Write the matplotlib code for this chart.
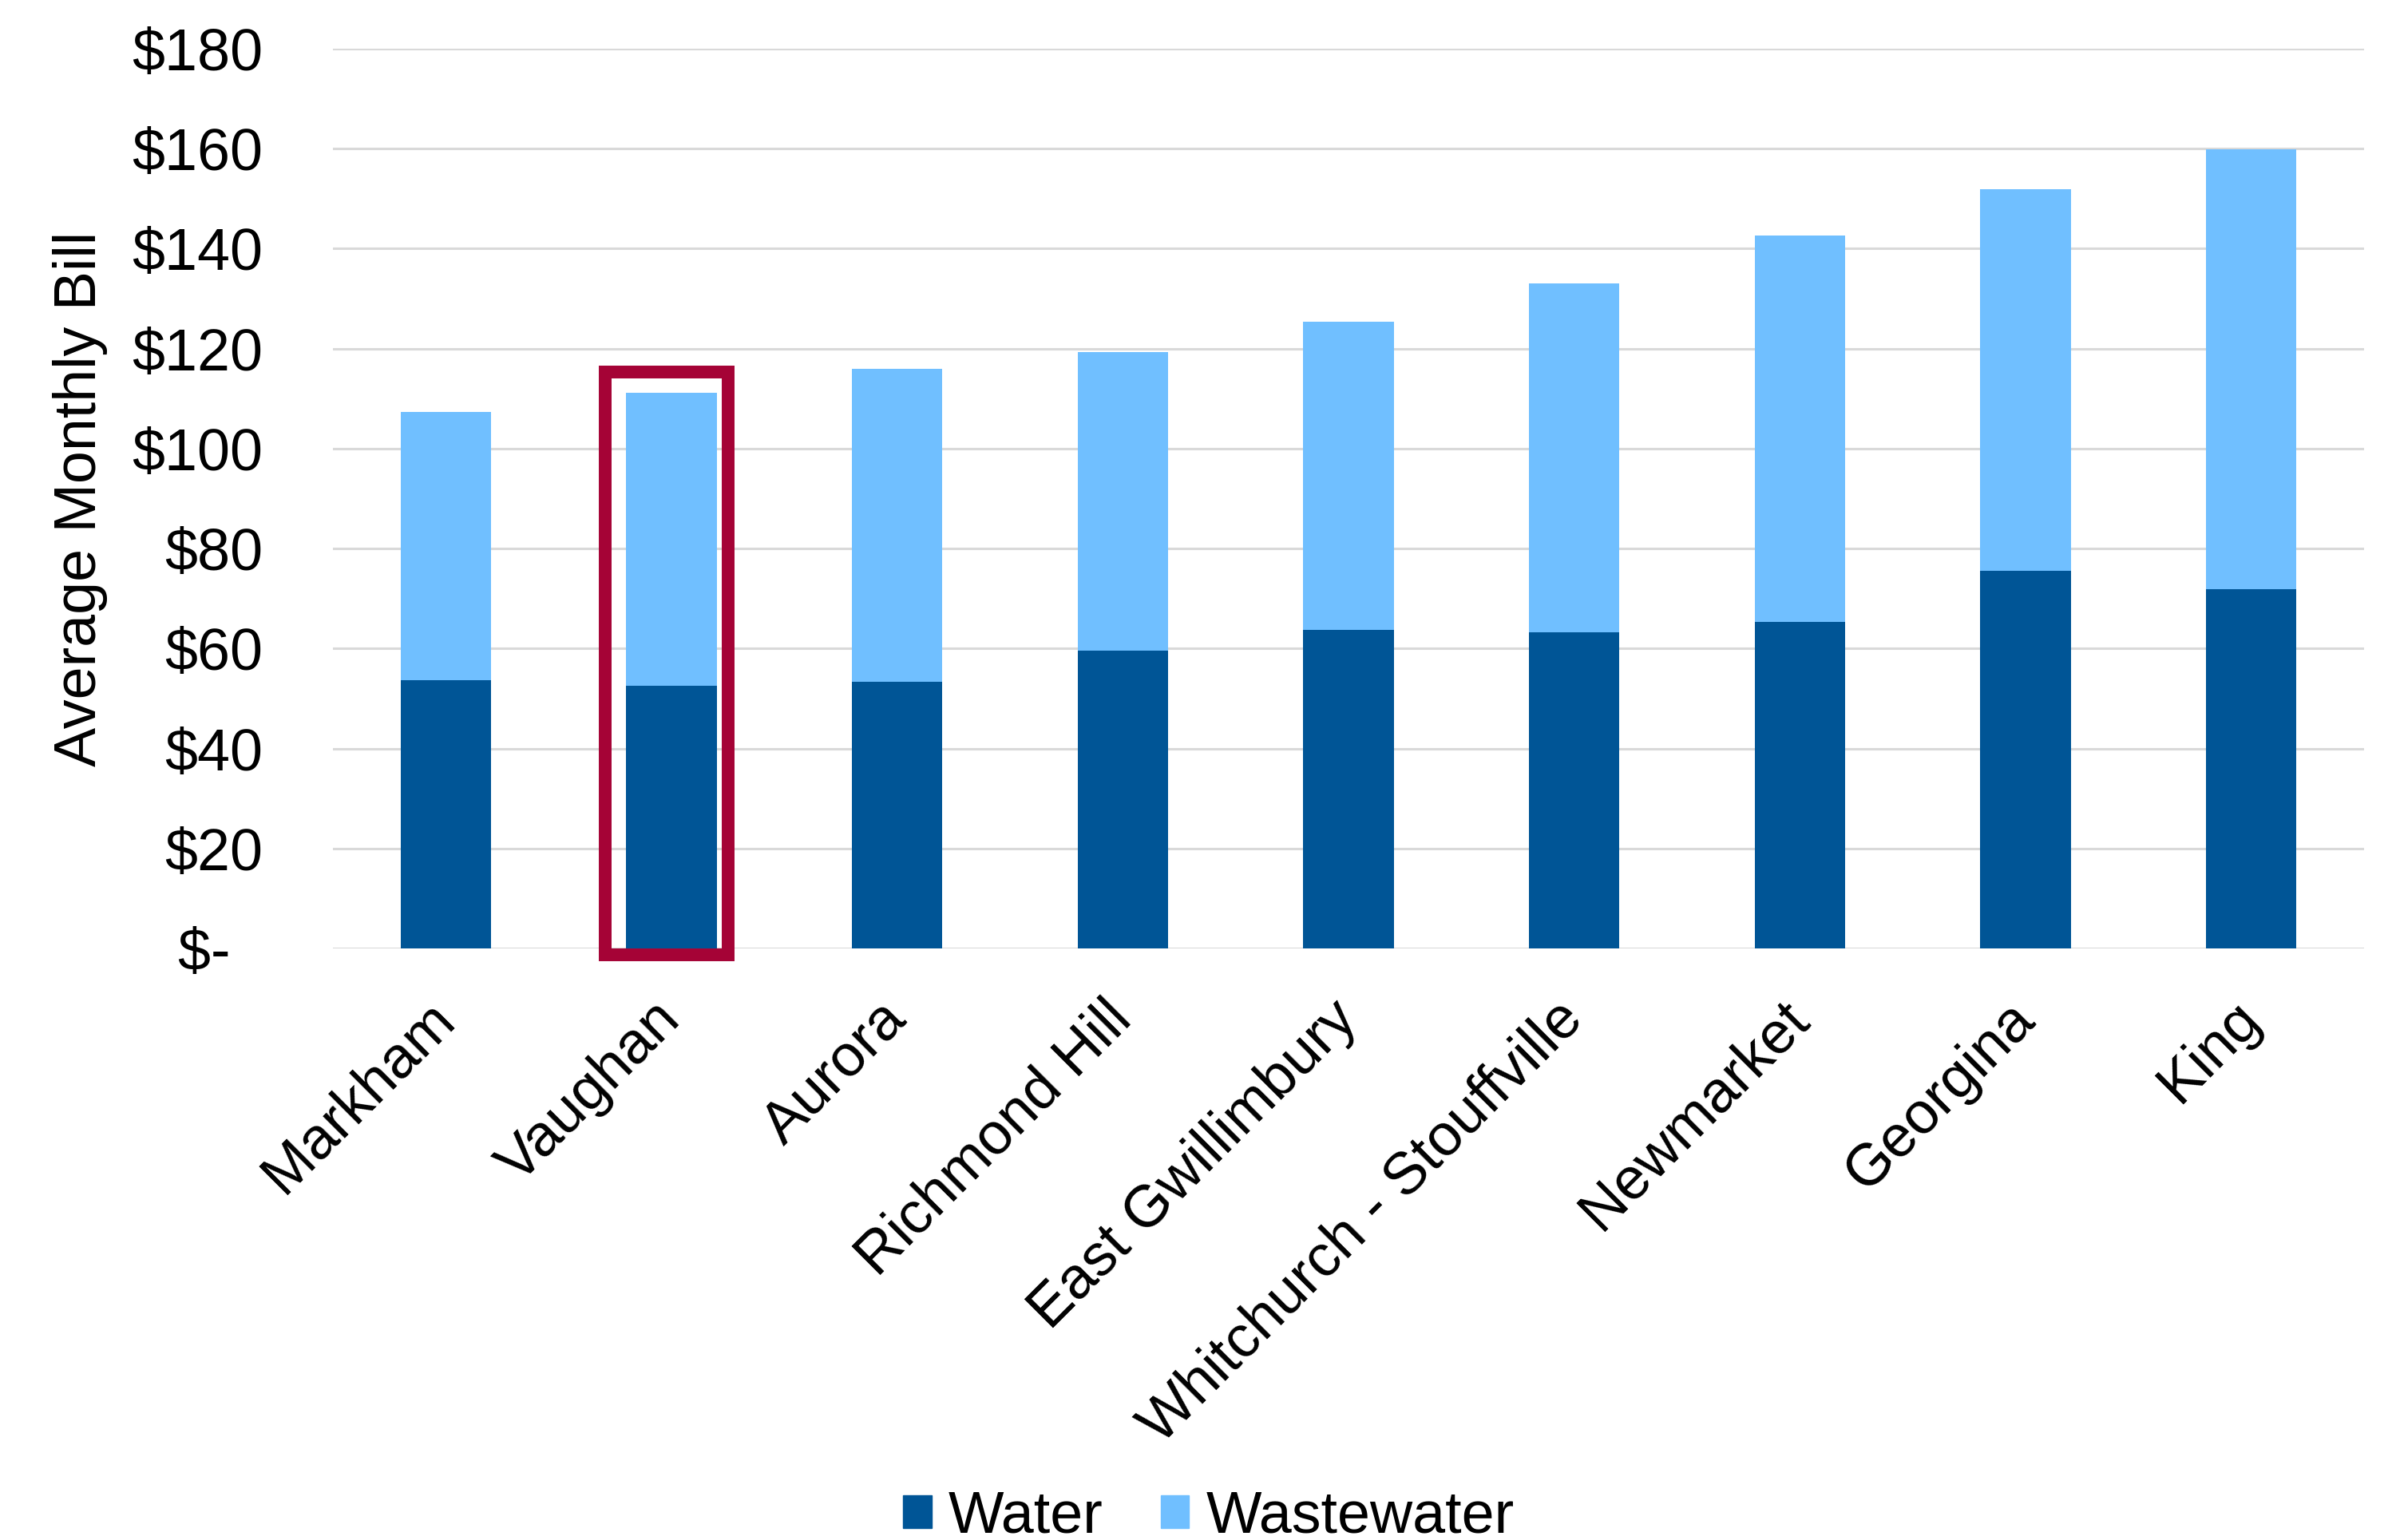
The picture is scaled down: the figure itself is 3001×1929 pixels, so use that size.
import matplotlib
matplotlib.use("Agg")
import matplotlib.pyplot as plt
from matplotlib.patches import Rectangle, Patch

# values ($ per month)
towns = ["Markham", "Vaughan", "Aurora", "Richmond Hill", "East Gwillimbury",
         "Whitchurch - Stouffville", "Newmarket", "Georgina", "King"]
water = [53.7, 52.5, 53.4, 59.6, 63.8, 63.2, 65.4, 75.5, 71.8]
total = [107.3, 111.2, 116.0, 119.3, 125.4, 133.0, 142.7, 151.9, 159.9]
wastewater = [t - w for t, w in zip(total, water)]

yticks = [0, 20, 40, 60, 80, 100, 120, 140, 160, 180]
ytick_labels = ["$-  ", "$20", "$40", "$60", "$80", "$100", "$120", "$140", "$160", "$180"]

water_col = "#005596"
waste_col = "#70BFFF"
box_col = "#A50336"
grid_col = "#D9D9D9"

plt.rcParams["font.family"] = ["Liberation Sans", "DejaVu Sans"]
fs = 53

fig = plt.figure(figsize=(30.01, 19.29), dpi=100)
ax = fig.add_axes([417 / 3001, 1 - 1188 / 1929, (2961 - 417) / 3001, (1188 - 61) / 1929])

x = list(range(len(towns)))
ax.bar(x, water, width=0.4, color=water_col, label="Water", zorder=3)
ax.bar(x, wastewater, width=0.4, bottom=water, color=waste_col, label="Wastewater", zorder=3)

# highlight box round Vaughan
ax.add_patch(Rectangle((0.7075, -1.3), 1.252 - 0.7075, 115.3 + 1.3, fill=False,
                       edgecolor=box_col, linewidth=11.5, zorder=4, clip_on=False))

ax.set_xlim(-0.5, len(towns) - 0.5)
ax.set_ylim(0, 180)
ax.set_yticks(yticks)
ax.set_yticklabels(ytick_labels)
ax.yaxis.grid(True, color=grid_col, linewidth=2.2, zorder=0)
ax.set_axisbelow(True)
for s in ax.spines.values():
    s.set_visible(False)
ax.tick_params(axis="y", length=0, pad=63, labelsize=fs)
ax.tick_params(axis="x", length=0, pad=56, labelsize=fs)
ax.set_xticks(x)
ax.set_xticklabels(towns, rotation=45, ha="right", va="center", rotation_mode="anchor")
ax.set_ylabel("Average Monthly Bill", fontsize=fs)
ax.yaxis.set_label_coords(-282 / 2544, 0.5)

handles = [Patch(color=water_col), Patch(color=waste_col)]
fig.legend(handles, ["Water", "Wastewater"], loc="center", ncol=2, frameon=False,
           fontsize=fs, bbox_to_anchor=(1514 / 3001, 1 - 1900 / 1929),
           handlelength=0.48, handleheight=0.48, handletextpad=0.29, columnspacing=0.98,
           borderpad=0, borderaxespad=0)

fig.savefig("out.png", dpi=100, facecolor="white")
